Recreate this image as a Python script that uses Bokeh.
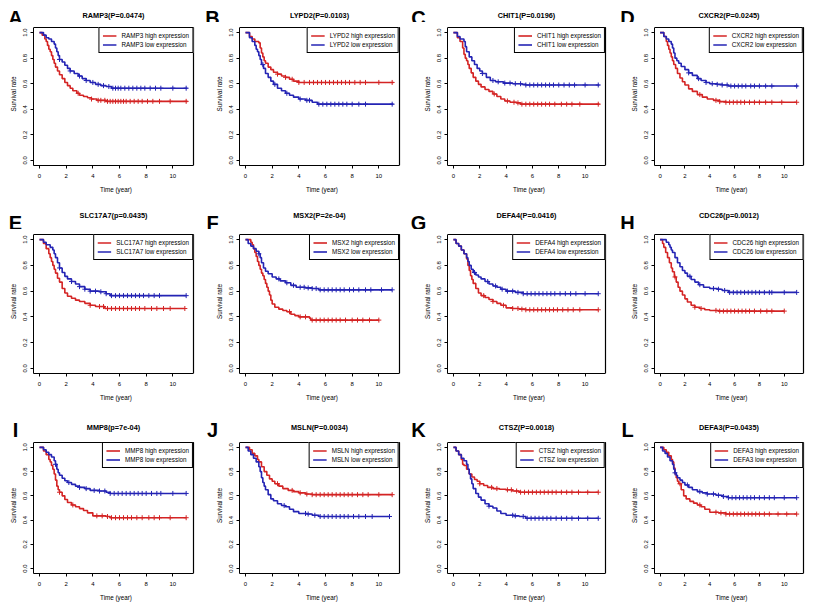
import numpy as np
from bokeh.plotting import figure
from bokeh.layouts import column, row
from bokeh.models import (Range1d, FixedTicker, PrintfTickFormatter, Legend, LegendItem)
from bokeh.core.properties import value
from bokeh.embed import file_html
from bokeh.resources import INLINE

# ---------------- data ----------------
letters = ["A", "B", "C", "D", "E", "F", "G", "H", "I", "J", "K", "L"]
genes = ["RAMP3", "LYPD2", "CHIT1", "CXCR2", "SLC17A7", "MSX2", "DEFA4", "CDC26",
         "MMP8", "MSLN", "CTSZ", "DEFA3"]
pvals = ["(P=0.0474)", "(P=0.0103)", "(P=0.0196)", "(P=0.0245)", "(p=0.0435)", "(P=2e-04)",
         "(P=0.0416)", "(p=0.0012)", "(p=7e-04)", "(P=0.0034)", "(P=0.0018)", "(P=0.0435)"]
x_ticks = [0, 2, 4, 6, 8, 10]
y_ticks = [0.0, 0.2, 0.4, 0.6, 0.8, 1.0]

# step knots: time (years) and survival after the step; censor times
A_hi_t = [0, 0.2, 0.4, 0.5, 0.6, 0.7, 0.8, 0.9, 1.0, 1.1, 1.2, 1.35, 1.5, 1.7, 1.9, 2.1, 2.3, 2.5, 2.8, 3.0, 3.3, 3.6, 3.9, 4.3, 5.0, 11.1]
A_hi_s = [1.0, 0.98, 0.95, 0.93, 0.90, 0.87, 0.85, 0.82, 0.79, 0.76, 0.73, 0.70, 0.67, 0.64, 0.61, 0.585, 0.565, 0.545, 0.525, 0.51, 0.50, 0.49, 0.48, 0.47, 0.462, 0.462]
A_hi_c = [2.9, 3.9, 4.4, 4.6, 4.9, 5.1, 5.3, 5.5, 5.7, 5.9, 6.1, 6.3, 6.5, 6.8, 7.1, 7.4, 7.7, 8.1, 8.5, 9.0, 9.8, 11.0]
A_lo_t = [0, 0.3, 0.5, 0.7, 0.9, 1.1, 1.2, 1.3, 1.4, 1.5, 1.7, 1.9, 2.1, 2.3, 2.6, 2.9, 3.2, 3.5, 3.8, 4.2, 4.6, 5.0, 5.4, 11.1]
A_lo_s = [1.0, 0.98, 0.96, 0.95, 0.93, 0.91, 0.88, 0.85, 0.82, 0.79, 0.77, 0.745, 0.72, 0.70, 0.68, 0.66, 0.64, 0.625, 0.61, 0.595, 0.585, 0.578, 0.565, 0.565]
A_lo_c = [1.5, 2.3, 3.0, 3.5, 4.0, 4.4, 4.8, 5.2, 5.5, 5.7, 5.9, 6.1, 6.4, 6.7, 7.0, 7.3, 7.6, 7.9, 8.3, 8.7, 9.1, 10.0, 11.0]

B_hi_t = [0, 0.3, 0.5, 0.7, 1.0, 1.1, 1.2, 1.3, 1.4, 1.5, 1.7, 1.9, 2.1, 2.4, 2.7, 3.0, 3.3, 3.6, 4.0, 11.1]
B_hi_s = [1.0, 0.97, 0.95, 0.93, 0.92, 0.88, 0.84, 0.81, 0.78, 0.76, 0.73, 0.71, 0.69, 0.675, 0.66, 0.65, 0.635, 0.62, 0.61, 0.61]
B_hi_c = [2.4, 3.0, 3.5, 4.0, 4.4, 4.8, 5.1, 5.4, 5.7, 6.0, 6.3, 6.6, 6.9, 7.2, 7.5, 7.8, 8.2, 8.6, 9.0, 10.0, 11.0]
B_lo_t = [0, 0.3, 0.5, 0.7, 0.8, 0.9, 1.0, 1.1, 1.2, 1.35, 1.5, 1.7, 1.9, 2.1, 2.4, 2.7, 3.0, 3.3, 3.6, 4.0, 4.5, 5.0, 5.4, 11.1]
B_lo_s = [1.0, 0.96, 0.93, 0.90, 0.87, 0.85, 0.82, 0.79, 0.75, 0.72, 0.68, 0.65, 0.62, 0.595, 0.565, 0.545, 0.525, 0.51, 0.495, 0.48, 0.47, 0.455, 0.44, 0.44]
B_lo_c = [1.3, 2.2, 3.1, 4.1, 4.6, 4.8, 5.5, 5.8, 6.1, 6.4, 6.7, 7.0, 7.3, 7.6, 8.0, 8.5, 9.0, 11.0]

C_hi_t = [0, 0.3, 0.5, 0.7, 0.8, 0.9, 1.0, 1.1, 1.2, 1.35, 1.5, 1.7, 1.9, 2.1, 2.4, 2.7, 3.0, 3.3, 3.6, 3.9, 4.3, 4.8, 5.1, 11.1]
C_hi_s = [1.0, 0.96, 0.93, 0.88, 0.83, 0.80, 0.78, 0.75, 0.72, 0.685, 0.65, 0.62, 0.595, 0.575, 0.555, 0.54, 0.52, 0.50, 0.48, 0.465, 0.455, 0.45, 0.44, 0.44]
C_hi_c = [3.1, 4.1, 4.6, 4.9, 5.2, 5.5, 5.8, 6.1, 6.4, 6.7, 7.0, 7.3, 7.7, 8.2, 8.6, 9.0, 9.6, 11.0]
C_lo_t = [0, 0.3, 0.5, 0.8, 0.9, 1.0, 1.2, 1.4, 1.6, 1.8, 2.0, 2.2, 2.5, 2.8, 3.2, 3.8, 4.5, 5.2, 5.5, 11.1]
C_lo_s = [1.0, 0.97, 0.95, 0.93, 0.89, 0.85, 0.81, 0.78, 0.75, 0.72, 0.70, 0.68, 0.65, 0.625, 0.615, 0.605, 0.60, 0.595, 0.59, 0.59]
C_lo_c = [2.2, 3.0, 3.4, 3.9, 4.3, 4.7, 5.1, 5.5, 5.8, 6.1, 6.4, 6.7, 7.0, 7.3, 7.6, 8.0, 8.4, 8.8, 9.2, 10.0, 11.0]

D_hi_t = [0, 0.3, 0.5, 0.6, 0.7, 0.8, 0.9, 1.0, 1.1, 1.25, 1.4, 1.6, 1.8, 2.0, 2.3, 2.6, 3.0, 3.4, 3.8, 4.3, 4.8, 5.3, 11.0]
D_hi_s = [1.0, 0.97, 0.93, 0.90, 0.87, 0.84, 0.81, 0.78, 0.75, 0.72, 0.68, 0.645, 0.615, 0.59, 0.56, 0.54, 0.515, 0.495, 0.48, 0.47, 0.46, 0.455, 0.455]
D_hi_c = [3.2, 4.5, 4.8, 5.3, 5.6, 5.9, 6.2, 6.5, 6.8, 7.2, 7.6, 8.0, 8.5, 9.0, 9.8, 11.0]
D_lo_t = [0, 0.3, 0.5, 0.7, 0.9, 1.0, 1.1, 1.2, 1.35, 1.5, 1.7, 2.0, 2.3, 2.6, 3.0, 3.3, 3.7, 4.0, 4.6, 5.0, 5.5, 11.1]
D_lo_s = [1.0, 0.97, 0.95, 0.93, 0.91, 0.88, 0.84, 0.80, 0.78, 0.76, 0.735, 0.71, 0.685, 0.665, 0.64, 0.625, 0.61, 0.60, 0.595, 0.59, 0.582, 0.582]
D_lo_c = [2.3, 3.1, 3.7, 4.2, 4.6, 5.0, 5.4, 5.7, 6.0, 6.3, 6.6, 6.9, 7.3, 7.6, 8.0, 8.5, 9.0, 11.0]

E_hi_t = [0, 0.3, 0.5, 0.7, 0.8, 0.9, 1.0, 1.1, 1.2, 1.35, 1.5, 1.7, 1.9, 2.1, 2.4, 2.7, 3.0, 3.4, 3.8, 4.2, 4.9, 10.9]
E_hi_s = [1.0, 0.97, 0.93, 0.89, 0.86, 0.83, 0.80, 0.77, 0.74, 0.70, 0.67, 0.62, 0.585, 0.56, 0.545, 0.53, 0.52, 0.505, 0.49, 0.48, 0.465, 0.465]
E_hi_c = [3.8, 4.5, 4.8, 5.1, 5.4, 5.7, 6.0, 6.3, 6.6, 6.9, 7.2, 7.5, 7.9, 8.4, 8.8, 9.3, 9.8, 10.9]
E_lo_t = [0, 0.3, 0.5, 0.8, 1.0, 1.1, 1.2, 1.35, 1.5, 1.7, 1.9, 2.1, 2.4, 2.7, 3.0, 3.4, 3.8, 4.5, 5.0, 5.3, 11.0]
E_lo_s = [1.0, 0.98, 0.96, 0.94, 0.92, 0.89, 0.86, 0.82, 0.78, 0.745, 0.715, 0.695, 0.675, 0.655, 0.635, 0.615, 0.60, 0.595, 0.58, 0.565, 0.565]
E_lo_c = [1.5, 2.4, 3.0, 3.4, 3.8, 4.2, 4.6, 5.0, 5.4, 5.7, 6.0, 6.3, 6.6, 6.9, 7.2, 7.5, 7.8, 8.2, 8.6, 9.0, 11.0]

F_hi_t = [0, 0.4, 0.5, 0.6, 0.7, 0.8, 0.9, 1.0, 1.1, 1.2, 1.3, 1.4, 1.5, 1.6, 1.7, 1.8, 1.9, 2.0, 2.2, 2.5, 2.8, 3.1, 3.4, 3.7, 4.0, 4.8, 4.9, 10.0]
F_hi_s = [1.0, 0.98, 0.96, 0.93, 0.90, 0.87, 0.83, 0.80, 0.77, 0.74, 0.72, 0.69, 0.66, 0.63, 0.60, 0.57, 0.53, 0.50, 0.475, 0.46, 0.45, 0.44, 0.42, 0.41, 0.40, 0.39, 0.375, 0.375]
F_hi_c = [3.3, 4.1, 4.5, 5.0, 5.3, 5.6, 5.9, 6.2, 6.5, 6.8, 7.1, 7.5, 8.0, 8.4, 8.8, 9.3, 10.0]
F_lo_t = [0, 0.2, 0.4, 0.6, 0.8, 1.0, 1.1, 1.2, 1.35, 1.5, 1.7, 2.0, 2.3, 2.6, 3.0, 3.4, 3.8, 4.5, 5.0, 5.5, 11.0]
F_lo_s = [1.0, 0.97, 0.95, 0.93, 0.91, 0.89, 0.86, 0.82, 0.78, 0.755, 0.735, 0.71, 0.695, 0.68, 0.665, 0.645, 0.63, 0.625, 0.62, 0.61, 0.61]
F_lo_c = [1.0, 2.5, 3.1, 3.6, 4.1, 4.4, 4.7, 5.0, 5.3, 5.6, 5.9, 6.2, 6.5, 6.8, 7.1, 7.4, 7.8, 8.1, 8.5, 9.0, 9.4, 10.2, 11.0]

G_hi_t = [0, 0.2, 0.4, 0.6, 0.8, 1.0, 1.1, 1.2, 1.3, 1.4, 1.5, 1.7, 1.9, 2.1, 2.4, 2.7, 3.0, 3.3, 3.6, 4.0, 4.5, 5.0, 5.5, 11.0]
G_hi_s = [1.0, 0.97, 0.95, 0.92, 0.89, 0.85, 0.80, 0.76, 0.72, 0.69, 0.66, 0.62, 0.585, 0.565, 0.55, 0.535, 0.52, 0.505, 0.49, 0.47, 0.465, 0.46, 0.455, 0.455]
G_hi_c = [2.3, 3.0, 3.8, 4.5, 4.9, 5.2, 5.5, 5.8, 6.1, 6.4, 6.7, 7.0, 7.3, 7.6, 7.9, 8.3, 8.7, 9.1, 9.6, 11.0]
G_lo_t = [0, 0.2, 0.4, 0.6, 0.8, 1.0, 1.1, 1.2, 1.35, 1.5, 1.7, 1.9, 2.1, 2.4, 2.7, 3.0, 3.3, 3.6, 4.0, 4.7, 5.3, 11.0]
G_lo_s = [1.0, 0.97, 0.95, 0.92, 0.89, 0.86, 0.83, 0.80, 0.77, 0.745, 0.725, 0.71, 0.695, 0.675, 0.655, 0.64, 0.63, 0.615, 0.60, 0.59, 0.58, 0.58]
G_lo_c = [1.6, 2.6, 3.2, 3.7, 4.1, 4.5, 4.9, 5.3, 5.6, 5.9, 6.2, 6.5, 6.8, 7.1, 7.4, 7.7, 8.1, 8.5, 8.9, 9.3, 10.0, 11.0]

H_hi_t = [0, 0.2, 0.3, 0.45, 0.6, 0.75, 0.9, 1.0, 1.15, 1.3, 1.45, 1.6, 1.8, 2.0, 2.2, 2.5, 2.8, 3.2, 3.6, 4.0, 4.7, 10.0]
H_hi_s = [1.0, 0.97, 0.94, 0.90, 0.86, 0.82, 0.78, 0.75, 0.71, 0.67, 0.63, 0.60, 0.57, 0.54, 0.515, 0.49, 0.475, 0.465, 0.455, 0.45, 0.445, 0.445]
H_hi_c = [1.2, 2.8, 3.3, 4.5, 4.8, 5.1, 5.4, 5.7, 6.0, 6.3, 6.6, 6.9, 7.2, 7.6, 8.1, 8.6, 9.0, 10.0]
H_lo_t = [0, 0.5, 0.7, 0.8, 0.9, 1.0, 1.2, 1.4, 1.6, 1.8, 2.0, 2.2, 2.5, 2.8, 3.1, 3.5, 4.0, 4.6, 5.0, 5.5, 11.0]
H_lo_s = [1.0, 0.98, 0.96, 0.94, 0.92, 0.90, 0.86, 0.82, 0.79, 0.76, 0.74, 0.715, 0.69, 0.67, 0.65, 0.63, 0.62, 0.615, 0.605, 0.59, 0.59]
H_lo_c = [2.4, 3.2, 4.3, 4.7, 5.2, 5.6, 5.9, 6.2, 6.5, 6.8, 7.1, 7.4, 7.7, 8.0, 8.4, 8.8, 9.0, 10.0, 11.0]

I_hi_t = [0, 0.3, 0.5, 0.7, 0.8, 0.9, 1.0, 1.1, 1.2, 1.3, 1.4, 1.5, 1.7, 1.9, 2.1, 2.4, 2.7, 3.0, 3.3, 3.6, 4.0, 5.0, 5.3, 11.0]
I_hi_s = [1.0, 0.97, 0.94, 0.90, 0.88, 0.85, 0.82, 0.78, 0.73, 0.68, 0.65, 0.63, 0.60, 0.57, 0.545, 0.525, 0.51, 0.495, 0.48, 0.46, 0.435, 0.43, 0.42, 0.42]
I_hi_c = [1.5, 2.5, 4.3, 4.7, 5.1, 5.4, 5.7, 6.0, 6.3, 6.6, 6.9, 7.3, 7.7, 8.2, 8.6, 9.0, 9.8, 11.0]
I_lo_t = [0, 0.3, 0.5, 0.7, 0.9, 1.1, 1.2, 1.3, 1.4, 1.5, 1.7, 1.9, 2.1, 2.4, 2.7, 3.0, 3.4, 3.8, 4.5, 5.0, 5.3, 11.0]
I_lo_s = [1.0, 0.98, 0.96, 0.94, 0.92, 0.89, 0.86, 0.82, 0.79, 0.77, 0.745, 0.725, 0.71, 0.695, 0.68, 0.67, 0.66, 0.645, 0.64, 0.63, 0.62, 0.62]
I_lo_c = [1.2, 2.2, 3.0, 3.5, 4.1, 4.5, 4.9, 5.3, 5.6, 5.9, 6.2, 6.5, 6.8, 7.1, 7.4, 7.7, 8.0, 8.4, 8.8, 9.1, 10.0, 11.0]

J_hi_t = [0, 0.3, 0.5, 0.7, 0.9, 1.0, 1.2, 1.4, 1.6, 1.8, 2.0, 2.2, 2.5, 2.8, 3.2, 3.6, 4.0, 4.5, 5.0, 11.0]
J_hi_s = [1.0, 0.98, 0.95, 0.93, 0.90, 0.88, 0.84, 0.80, 0.77, 0.74, 0.72, 0.70, 0.68, 0.66, 0.645, 0.635, 0.625, 0.615, 0.61, 0.61]
J_hi_c = [2.4, 3.5, 4.1, 4.6, 5.0, 5.3, 5.6, 5.9, 6.2, 6.5, 6.8, 7.1, 7.4, 7.7, 8.0, 8.4, 8.8, 9.2, 10.0, 11.0]
J_lo_t = [0, 0.2, 0.4, 0.6, 0.8, 1.0, 1.1, 1.2, 1.3, 1.4, 1.5, 1.7, 1.9, 2.1, 2.4, 2.7, 3.0, 3.3, 3.6, 4.0, 4.6, 5.0, 5.5, 10.8]
J_lo_s = [1.0, 0.97, 0.94, 0.91, 0.88, 0.84, 0.80, 0.75, 0.71, 0.68, 0.65, 0.61, 0.575, 0.56, 0.535, 0.52, 0.51, 0.49, 0.47, 0.455, 0.45, 0.44, 0.43, 0.43]
J_lo_c = [2.9, 4.5, 4.7, 5.2, 5.6, 5.9, 6.2, 6.5, 6.8, 7.1, 7.4, 7.7, 8.1, 8.5, 9.0, 9.5, 10.8]

K_hi_t = [0, 0.2, 0.4, 0.6, 0.7, 0.8, 1.0, 1.2, 1.4, 1.6, 1.8, 2.0, 2.3, 2.6, 3.0, 3.5, 4.0, 4.5, 5.0, 11.0]
K_hi_s = [1.0, 0.97, 0.94, 0.90, 0.86, 0.85, 0.82, 0.78, 0.755, 0.735, 0.72, 0.70, 0.685, 0.67, 0.66, 0.655, 0.65, 0.64, 0.63, 0.63]
K_hi_c = [2.0, 2.9, 3.3, 4.1, 4.4, 4.8, 5.1, 5.4, 5.7, 6.0, 6.3, 6.6, 6.9, 7.2, 7.5, 7.8, 8.2, 8.6, 9.0, 9.5, 10.2, 11.0]
K_lo_t = [0, 0.2, 0.4, 0.6, 0.8, 1.0, 1.1, 1.2, 1.3, 1.4, 1.5, 1.7, 1.9, 2.1, 2.4, 2.7, 3.0, 3.3, 3.6, 4.0, 4.6, 5.0, 5.5, 11.0]
K_lo_s = [1.0, 0.97, 0.94, 0.91, 0.89, 0.86, 0.82, 0.78, 0.74, 0.70, 0.66, 0.62, 0.59, 0.565, 0.535, 0.515, 0.50, 0.475, 0.455, 0.44, 0.435, 0.43, 0.415, 0.415]
K_lo_c = [2.7, 4.5, 4.7, 5.3, 5.6, 5.9, 6.2, 6.5, 6.8, 7.1, 7.4, 7.8, 8.2, 8.6, 9.0, 9.5, 10.2, 11.0]

L_hi_t = [0, 0.3, 0.5, 0.7, 0.9, 1.0, 1.1, 1.2, 1.3, 1.4, 1.5, 1.7, 1.9, 2.1, 2.4, 2.7, 3.0, 3.3, 3.6, 4.0, 4.7, 5.3, 11.0]
L_hi_s = [1.0, 0.98, 0.96, 0.93, 0.90, 0.88, 0.83, 0.78, 0.75, 0.72, 0.70, 0.65, 0.60, 0.575, 0.555, 0.54, 0.525, 0.51, 0.49, 0.465, 0.46, 0.45, 0.45]
L_hi_c = [1.6, 3.2, 4.5, 4.9, 5.3, 5.6, 5.9, 6.2, 6.5, 6.8, 7.1, 7.4, 7.7, 8.0, 8.4, 8.8, 9.5, 10.2, 11.0]
L_lo_t = [0, 0.2, 0.4, 0.6, 0.8, 1.0, 1.1, 1.2, 1.3, 1.4, 1.6, 1.8, 2.0, 2.3, 2.6, 3.0, 3.4, 3.8, 4.5, 5.0, 5.5, 11.0]
L_lo_s = [1.0, 0.97, 0.95, 0.92, 0.89, 0.86, 0.82, 0.79, 0.77, 0.75, 0.73, 0.71, 0.69, 0.67, 0.65, 0.635, 0.625, 0.615, 0.605, 0.595, 0.585, 0.585]
L_lo_c = [1.2, 2.2, 3.2, 3.8, 4.3, 4.7, 5.1, 5.5, 5.8, 6.1, 6.4, 6.7, 7.0, 7.3, 7.6, 8.0, 8.4, 8.8, 9.2, 10.0, 11.0]

high_curves = [(A_hi_t, A_hi_s, A_hi_c), (B_hi_t, B_hi_s, B_hi_c), (C_hi_t, C_hi_s, C_hi_c),
               (D_hi_t, D_hi_s, D_hi_c), (E_hi_t, E_hi_s, E_hi_c), (F_hi_t, F_hi_s, F_hi_c),
               (G_hi_t, G_hi_s, G_hi_c), (H_hi_t, H_hi_s, H_hi_c), (I_hi_t, I_hi_s, I_hi_c),
               (J_hi_t, J_hi_s, J_hi_c), (K_hi_t, K_hi_s, K_hi_c), (L_hi_t, L_hi_s, L_hi_c)]
low_curves = [(A_lo_t, A_lo_s, A_lo_c), (B_lo_t, B_lo_s, B_lo_c), (C_lo_t, C_lo_s, C_lo_c),
              (D_lo_t, D_lo_s, D_lo_c), (E_lo_t, E_lo_s, E_lo_c), (F_lo_t, F_lo_s, F_lo_c),
              (G_lo_t, G_lo_s, G_lo_c), (H_lo_t, H_lo_s, H_lo_c), (I_lo_t, I_lo_s, I_lo_c),
              (J_lo_t, J_lo_s, J_lo_c), (K_lo_t, K_lo_s, K_lo_c), (L_lo_t, L_lo_s, L_lo_c)]

# ---------------- layout / style ----------------
FONT = "Liberation Sans"
RED = "#D42424"
BLUE = "#2424B4"
BOX_X = (-0.45, 11.55)       # R-style plot box (4% padding)
BOX_Y = (-0.04, 1.04)
INSET = 5                    # px of frame kept beyond the box at top and right
col_w = [204, 204, 202, 198]
col_bl = [33, 35, 39, 44]
col_br = [6, 4, 0, 0]
PAGE_W = sum(col_w)
header_h = [22, 20, 19]
chart_h = [187, 189, 167]
chart_bt = 0
chart_bb = [44, 45, 31]
letter_base = [5, 7, 8]      # letter baseline above header bottom
title_mid = [7, 14, 10]      # gene title centre above header bottom
letter_off = [-18, -27, -29, -27]   # letter centre relative to frame left


def censor_y(t, s, c):
    t = np.asarray(t, float)
    s = np.asarray(s, float)
    idx = np.searchsorted(t, np.asarray(c, float), side="right") - 1
    return s[idx]


def make_header(r):
    h = figure(width=PAGE_W, height=header_h[r], output_backend="svg", toolbar_location=None,
               x_range=Range1d(0, PAGE_W), y_range=Range1d(0, header_h[r]),
               x_axis_location=None, y_axis_location=None, min_border=0)
    h.grid.visible = False
    h.outline_line_color = None
    h.background_fill_color = "white"
    h.border_fill_color = "white"
    lx, tx, lt, tt = [], [], [], []
    x0 = 0
    for c in range(4):
        i = r * 4 + c
        fl = x0 + col_bl[c]
        bw = col_w[c] - col_bl[c] - col_br[c] - INSET
        lx.append(fl + letter_off[c])
        tx.append(fl + bw / 2)
        lt.append(letters[i])
        tt.append(genes[i] + pvals[i])
        x0 += col_w[c]
    h.text(x=lx, y=[letter_base[r]] * 4, text=lt, text_font=value(FONT),
           text_font_size="20px", text_font_style="bold", text_color="black",
           text_align="center", text_baseline="alphabetic")
    h.text(x=tx, y=[title_mid[r]] * 4, text=tt, text_font=value(FONT),
           text_font_size="7.3px", text_font_style="bold", text_color="black",
           text_align="center", text_baseline="middle")
    return h


def make_chart(i):
    r, c = divmod(i, 4)
    fw = col_w[c] - col_bl[c] - col_br[c]
    fh = chart_h[r] - chart_bt - chart_bb[r]
    # extend the frame beyond the box by INSET pixels on the top and right
    pad_x = INSET * (BOX_X[1] - BOX_X[0]) / (fw - INSET)
    pad_y = INSET * (BOX_Y[1] - BOX_Y[0]) / (fh - INSET)
    p = figure(width=col_w[c], height=chart_h[r], output_backend="svg", toolbar_location=None,
               x_range=Range1d(BOX_X[0], BOX_X[1] + pad_x),
               y_range=Range1d(BOX_Y[0], BOX_Y[1] + pad_y),
               min_border_left=col_bl[c], min_border_right=col_br[c],
               min_border_top=chart_bt, min_border_bottom=chart_bb[r])
    p.grid.visible = False
    p.outline_line_color = None
    p.background_fill_color = "white"
    p.border_fill_color = "white"

    for ax, ticks, bnds in ((p.xaxis[0], x_ticks, BOX_X), (p.yaxis[0], y_ticks, BOX_Y)):
        ax.ticker = FixedTicker(ticks=ticks)
        ax.bounds = bnds
        ax.minor_tick_line_color = None
        ax.major_tick_in = 0
        ax.major_tick_out = 3
        ax.major_tick_line_color = "black"
        ax.axis_line_color = "black"
        ax.major_label_text_font = FONT
        ax.major_label_text_font_size = "6px"
        ax.major_label_text_color = "black"
        ax.axis_label_text_font = FONT
        ax.axis_label_text_font_size = "6.3px"
        ax.axis_label_text_font_style = "normal"
        ax.axis_label_text_color = "black"
    p.xaxis[0].axis_label = "Time (year)"
    p.xaxis[0].major_label_standoff = 5
    p.xaxis[0].axis_label_standoff = 5
    p.yaxis[0].axis_label = "Survival rate"
    p.yaxis[0].formatter = PrintfTickFormatter(format="%.1f")
    p.yaxis[0].major_label_orientation = "vertical"
    p.yaxis[0].major_label_standoff = 3
    p.yaxis[0].axis_label_standoff = 4

    th, sh, ch = high_curves[i]
    tl, sl, cl = low_curves[i]
    r_hi = p.step(th, sh, mode="after", line_color=RED, line_width=1.6)
    p.scatter(ch, censor_y(th, sh, ch), marker="cross", size=5, line_color=RED, line_width=1)
    r_lo = p.step(tl, sl, mode="after", line_color=BLUE, line_width=1.6)
    p.scatter(cl, censor_y(tl, sl, cl), marker="cross", size=5, line_color=BLUE, line_width=1)

    # top and right sides of the plot box (left/bottom are the axis lines)
    p.line(x=[BOX_X[0], BOX_X[1], BOX_X[1]], y=[BOX_Y[1], BOX_Y[1], BOX_Y[0]],
           line_color="black", line_width=1.2)

    leg = Legend(items=[LegendItem(label=genes[i] + " high expression", renderers=[r_hi]),
                        LegendItem(label=genes[i] + " low expression", renderers=[r_lo])],
                 location="top_right", margin=INSET, padding=3, spacing=0,
                 glyph_width=14, glyph_height=9, label_height=9, label_standoff=5,
                 label_text_font=FONT, label_text_font_size="6.3px", label_text_color="black",
                 border_line_color="black", border_line_width=1, border_line_alpha=1,
                 background_fill_color="white", background_fill_alpha=1)
    p.add_layout(leg)
    return p


blocks = []
for r in range(3):
    blocks.append(make_header(r))
    blocks.append(row(*[make_chart(r * 4 + c) for c in range(4)]))

page = column(*blocks)
open("out.html", "w").write(file_html(page, INLINE))
